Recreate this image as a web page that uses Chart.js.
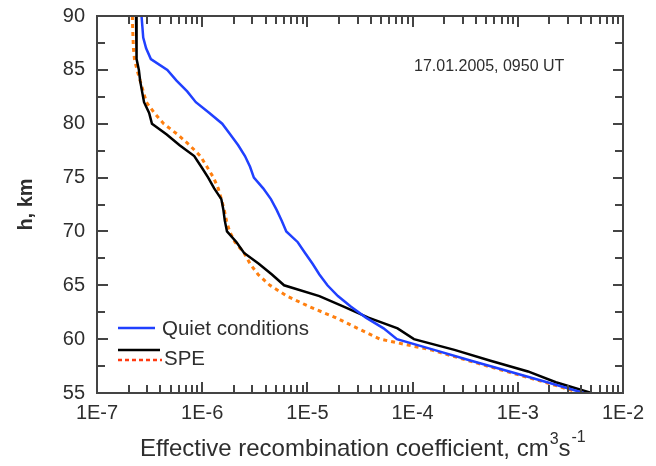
<!DOCTYPE html>
<html>
<head>
<meta charset="utf-8">
<script src="https://cdn.jsdelivr.net/npm/chart.js@4.4.1/dist/chart.umd.min.js"></script>
<style>
  html, body { margin: 0; padding: 0; background: #ffffff; }
  #wrap { width: 656px; height: 466px; }
</style>
</head>
<body>
<div id="wrap"><canvas id="c" width="656" height="466"></canvas></div>
<script>
// Heights (km), top to bottom
const heights = [90,89,88,87,86,85,84,83,82,81,80,79,78,77,76,75,74,73,72,71,70,69,68,67,66,65,64,63,62,61,60,59,58,57,56,55];

// Effective recombination coefficient, cm^3 s^-1
const quietValues = [2.65e-7,2.7e-7,2.75e-7,2.93e-7,3.25e-7,4.66e-7,5.7e-7,7.2e-7,8.7e-7,1.17e-6,1.55e-6,1.85e-6,2.2e-6,2.55e-6,2.85e-6,3.1e-6,3.8e-6,4.5e-6,5.1e-6,5.7e-6,6.3e-6,8.1e-6,9.5e-6,1.12e-5,1.3e-5,1.55e-5,1.95e-5,2.6e-5,3.6e-5,5.3e-5,7.1e-5,1.6e-4,3.6e-4,8.3e-4,1.9e-3,4.25e-3];
const speValues = [2.35e-7,2.36e-7,2.37e-7,2.38e-7,2.4e-7,2.5e-7,2.57e-7,2.68e-7,2.8e-7,3.13e-7,3.33e-7,4.6e-7,6.1e-7,8.4e-7,9.8e-7,1.14e-6,1.3e-6,1.52e-6,1.59e-6,1.64e-6,1.72e-6,2.12e-6,2.5e-6,3.45e-6,4.6e-6,6.0e-6,1.3e-5,2.24e-5,3.8e-5,7.2e-5,1.03e-4,2.5e-4,5.5e-4,1.25e-3,2.3e-3,5.0e-3];
const speDottedValues = [2.17e-7,2.18e-7,2.2e-7,2.22e-7,2.27e-7,2.4e-7,2.57e-7,2.75e-7,2.95e-7,3.5e-7,4.3e-7,5.84e-7,7.6e-7,9.6e-7,1.11e-6,1.28e-6,1.42e-6,1.52e-6,1.62e-6,1.7e-6,1.82e-6,2.05e-6,2.5e-6,2.85e-6,3.4e-6,4.4e-6,6.4e-6,1.05e-5,1.85e-5,3.0e-5,4.9e-5,1.5e-4,3.4e-4,7.8e-4,1.8e-3,4.0e-3];

// Axis ticks
const xDecades = [1e-7,1e-6,1e-5,1e-4,1e-3,1e-2];
const yTicks = [55,60,65,70,75,80,85,90];
const yMinorTicks = [57.5,62.5,67.5,72.5,77.5,82.5,87.5];

const seriesNames = ['Quiet conditions', 'SPE'];
const annotationText = '17.01.2005, 0950 UT';
const xTitle = 'Effective recombination coefficient, cm';
const yTitle = 'h, km';

const FONT = '"Liberation Sans", Arial, sans-serif';
const TEXT = '#2e2e2e';
const FRAME = '#444444';

function pts(vals) { return heights.map((h, i) => ({ x: vals[i], y: h })); }

const framePlugin = {
  id: 'framePlugin',
  afterDatasetsDraw(chart) {
    const { ctx, chartArea: a, scales } = chart;
    const xs = scales.x, ys = scales.y;
    ctx.save();
    ctx.strokeStyle = FRAME;
    ctx.lineWidth = 2;
    ctx.lineCap = 'butt';
    ctx.beginPath();
    for (let d = 0; d < xDecades.length; d++) {
      const dec = xDecades[d];
      const px = Math.round(xs.getPixelForValue(dec));
      ctx.moveTo(px, a.top); ctx.lineTo(px, a.top + 11);
      ctx.moveTo(px, a.bottom); ctx.lineTo(px, a.bottom - 11);
      if (d < xDecades.length - 1) {
        for (let m = 2; m <= 9; m++) {
          const mx = Math.round(xs.getPixelForValue(dec * m));
          ctx.moveTo(mx, a.top); ctx.lineTo(mx, a.top + 8);
          ctx.moveTo(mx, a.bottom); ctx.lineTo(mx, a.bottom - 8);
        }
      }
    }
    yTicks.forEach(v => {
      const py = Math.round(ys.getPixelForValue(v));
      ctx.moveTo(a.left, py); ctx.lineTo(a.left + 11, py);
      ctx.moveTo(a.right, py); ctx.lineTo(a.right - 10, py);
    });
    yMinorTicks.forEach(v => {
      const py = Math.round(ys.getPixelForValue(v));
      ctx.moveTo(a.left, py); ctx.lineTo(a.left + 8, py);
      ctx.moveTo(a.right, py); ctx.lineTo(a.right - 8, py);
    });
    ctx.stroke();
    ctx.strokeRect(a.left, a.top, a.right - a.left, a.bottom - a.top);

    // annotation
    ctx.fillStyle = TEXT;
    ctx.font = '16px ' + FONT;
    ctx.textAlign = 'left';
    ctx.textBaseline = 'alphabetic';
    ctx.fillText(annotationText, 414, 71);

    // legend
    ctx.lineWidth = 2.5;
    ctx.strokeStyle = '#2040ff';
    ctx.beginPath(); ctx.moveTo(118, 328); ctx.lineTo(155, 328); ctx.stroke();
    ctx.strokeStyle = '#000000';
    ctx.beginPath(); ctx.moveTo(118, 350); ctx.lineTo(160, 350); ctx.stroke();
    ctx.strokeStyle = '#ff3a10';
    ctx.setLineDash([4, 3]);
    ctx.beginPath(); ctx.moveTo(118, 360); ctx.lineTo(162, 360); ctx.stroke();
    ctx.setLineDash([]);
    ctx.font = '20.5px ' + FONT;
    ctx.fillText(seriesNames[0], 162, 335);
    ctx.fillText(seriesNames[1], 164, 365);

    // x title with superscripts
    ctx.font = '24px ' + FONT;
    let x = 140;
    const base = 456;
    ctx.fillText(xTitle, x, base);
    x += ctx.measureText(xTitle).width;
    ctx.font = '16px ' + FONT;
    ctx.fillText('3', x + 1, base - 12);
    x += ctx.measureText('3').width + 1;
    ctx.font = '24px ' + FONT;
    ctx.fillText('s', x, base);
    x += ctx.measureText('s').width;
    ctx.font = '16px ' + FONT;
    ctx.fillText('-1', x + 1, base - 14);

    // y title
    ctx.save();
    ctx.translate(32, (a.top + a.bottom) / 2);
    ctx.rotate(-Math.PI / 2);
    ctx.font = 'bold 20px ' + FONT;
    ctx.textAlign = 'center';
    ctx.fillText(yTitle, 0, 0);
    ctx.restore();

    ctx.restore();
  }
};

new Chart(document.getElementById('c'), {
  type: 'line',
  data: {
    datasets: [
      { label: seriesNames[0], data: pts(quietValues), borderColor: '#2040ff', borderWidth: 2.5, pointRadius: 0, tension: 0, fill: false },
      { label: seriesNames[1], data: pts(speValues), borderColor: '#000000', borderWidth: 2.5, pointRadius: 0, tension: 0, fill: false },
      { label: seriesNames[1] + ' (dotted)', data: pts(speDottedValues), borderColor: '#ff7f0f', borderWidth: 3, borderDash: [4, 4], pointRadius: 0, tension: 0, fill: false }
    ]
  },
  options: {
    responsive: false,
    animation: false,
    devicePixelRatio: 1,
    layout: { padding: { left: 0, top: 16, right: 33, bottom: 0 } },
    plugins: { legend: { display: false }, tooltip: { enabled: false } },
    scales: {
      x: {
        type: 'logarithmic',
        min: 1e-7, max: 1e-2,
        grid: { display: false, drawTicks: false },
        border: { display: false },
        afterBuildTicks: s => { s.ticks = xDecades.map(v => ({ value: v })); },
        afterFit: s => { s.height = 73; s.paddingLeft = 0; s.paddingRight = 0; },
        ticks: {
          color: TEXT, font: { family: FONT, size: 20 }, padding: 8, maxRotation: 0, autoSkip: false,
          callback: v => '1E' + Math.round(Math.log10(v))
        }
      },
      y: {
        type: 'linear',
        min: 55, max: 90,
        grid: { display: false, drawTicks: false },
        border: { display: false },
        afterBuildTicks: s => { s.ticks = yTicks.map(v => ({ value: v })); },
        afterFit: s => { s.width = 97; s.paddingTop = 0; s.paddingBottom = 0; },
        ticks: { color: TEXT, font: { family: FONT, size: 20 }, padding: 12 }
      }
    }
  },
  plugins: [framePlugin]
});
</script>
</body>
</html>
